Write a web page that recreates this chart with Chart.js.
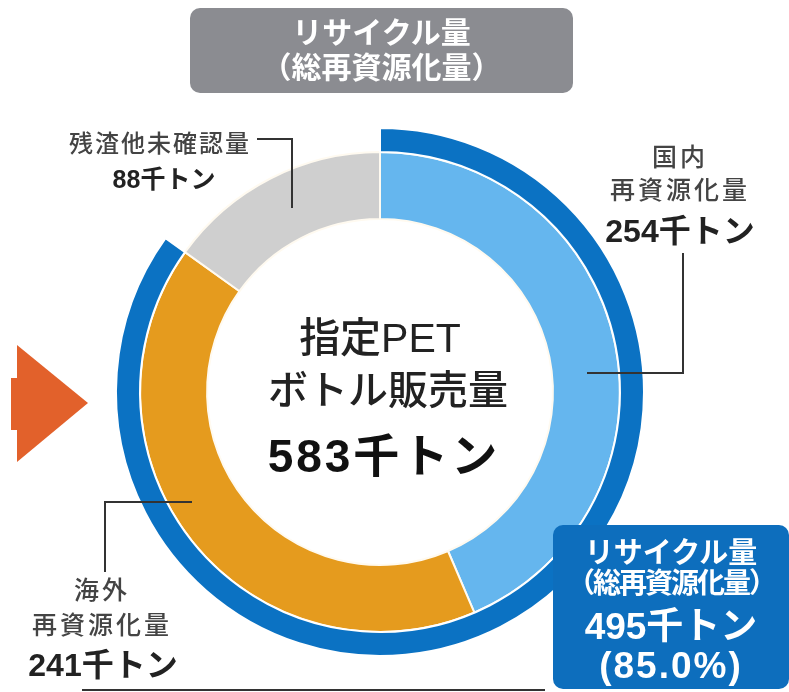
<!DOCTYPE html>
<html lang="ja">
<head>
<meta charset="utf-8">
<title>指定PETボトル販売量とリサイクル量</title>
<script src="https://cdn.jsdelivr.net/npm/chart.js@4.4.1/dist/chart.umd.min.js"></script>
<style>
  html, body { margin: 0; padding: 0; background: #fff; }
  #wrap { position: relative; width: 789px; height: 692px; overflow: hidden;
          font-family: "Liberation Sans", "Noto Sans CJK JP", sans-serif; }
  #chart { position: absolute; left: 0; top: 0; }
  #deco { position: absolute; left: 0; top: 0; }
  .t { position: absolute; text-align: center; white-space: nowrap; }
  .lbl { color: #444; font-weight: 500; font-size: 25px; letter-spacing: 3px; }
  .num { color: #222; font-weight: bold; font-size: 32px; }
  .box { position: absolute; border-radius: 10px; color: #fff; font-weight: bold; }
</style>
</head>
<body>
<div id="wrap">
  <canvas id="chart" width="789" height="692"></canvas>
  <svg id="deco" width="789" height="692">
    <polygon points="17,345 88,403 17,462" fill="#e2612b"/>
    <rect x="11" y="378" width="7" height="52" fill="#e2612b"/>
    <polyline points="257,139 292,139 292,208" fill="none" stroke="#333" stroke-width="2"/>
    <polyline points="683,253 683,373 587,373" fill="none" stroke="#333" stroke-width="2"/>
    <polyline points="105,572 105,502 192,502" fill="none" stroke="#333" stroke-width="2"/>
    <line x1="82" y1="690" x2="545" y2="690" stroke="#333" stroke-width="2"/>
  </svg>

  <div class="box" style="left:190px;top:8px;width:383px;height:85px;background:#8b8c91;">
    <div class="t" style="left:0;width:383px;top:8px;line-height:34px;font-size:30px;">リサイクル量</div>
    <div class="t" style="left:0;width:383px;top:43px;line-height:34px;font-size:30px;">（総再資源化量）</div>
  </div>

  <div class="t lbl" style="left:40px;width:240px;top:128px;line-height:32px;font-size:24px;letter-spacing:2px;">残渣他未確認量</div>
  <div class="t num" style="left:84px;width:160px;top:164px;line-height:30px;font-size:25px;">88千トン</div>

  <div class="t lbl" style="left:598px;width:164px;top:141px;line-height:32px;">国内</div>
  <div class="t lbl" style="left:598px;width:164px;top:174px;line-height:32px;">再資源化量</div>
  <div class="t num" style="left:590px;width:180px;top:212px;line-height:38px;">254千トン</div>

  <div class="t lbl" style="left:20px;width:164px;top:574px;line-height:32px;">海外</div>
  <div class="t lbl" style="left:20px;width:164px;top:609px;line-height:32px;">再資源化量</div>
  <div class="t num" style="left:13px;width:180px;top:646px;line-height:38px;">241千トン</div>

  <div class="t" style="left:230px;width:300px;top:314px;line-height:48px;font-size:41px;font-weight:500;color:#222;">指定PET</div>
  <div class="t" style="left:238px;width:300px;top:366px;line-height:48px;font-size:40px;font-weight:500;color:#222;">ボトル販売量</div>
  <div class="t" style="left:234px;width:300px;top:430px;line-height:52px;font-size:46px;font-weight:bold;letter-spacing:3px;color:#111;">583千トン</div>

  <div class="box" style="left:553px;top:525px;width:236px;height:164px;background:#0d6ebd;">
    <div class="t" style="left:0;width:236px;top:13px;line-height:30px;font-size:29px;">リサイクル量</div>
    <div class="t" style="left:0;width:236px;top:44px;line-height:30px;font-size:28px;letter-spacing:-2px;">（総再資源化量）</div>
    <div class="t" style="left:0;width:236px;top:82px;line-height:40px;font-size:37px;">495千トン</div>
    <div class="t" style="left:0;width:236px;top:121px;line-height:40px;font-size:37px;letter-spacing:2px;">(85.0%)</div>
  </div>
</div>

<script>
// 千トン
const recycleLabels = ['リサイクル量（総再資源化量）', '残渣他未確認量'];
const recycleValues = [495, 88];
const breakdownLabels = ['国内再資源化量', '海外再資源化量', '残渣他未確認量'];
const breakdownValues = [254, 241, 88];

const ctx = document.getElementById('chart').getContext('2d');
new Chart(ctx, {
    type: 'doughnut',
    data: {
        labels: breakdownLabels,
        datasets: [
            {
                label: 'リサイクル量',
                data: recycleValues,
                backgroundColor: ['#0b72c3', 'rgba(0,0,0,0)'],
                borderColor: '#ffffff',
                borderWidth: [2, 0],
                weight: 24
            },
            {
                label: '内訳',
                data: breakdownValues,
                backgroundColor: ['#65b6ee', '#e59b1e', '#cfcfcf'],
                borderColor: '#fffaf0',
                borderWidth: 2,
                weight: 67
            }
        ]
    },
    options: {
        responsive: false,
        animation: false,
        radius: 264,
        cutout: '65.5%',
        layout: {
            padding: { left: 116, top: 128, right: 145, bottom: 36 }
        },
        plugins: {
            legend: { display: false },
            tooltip: { enabled: false },
            title: { display: false }
        }
    }
});
</script>
</body>
</html>
